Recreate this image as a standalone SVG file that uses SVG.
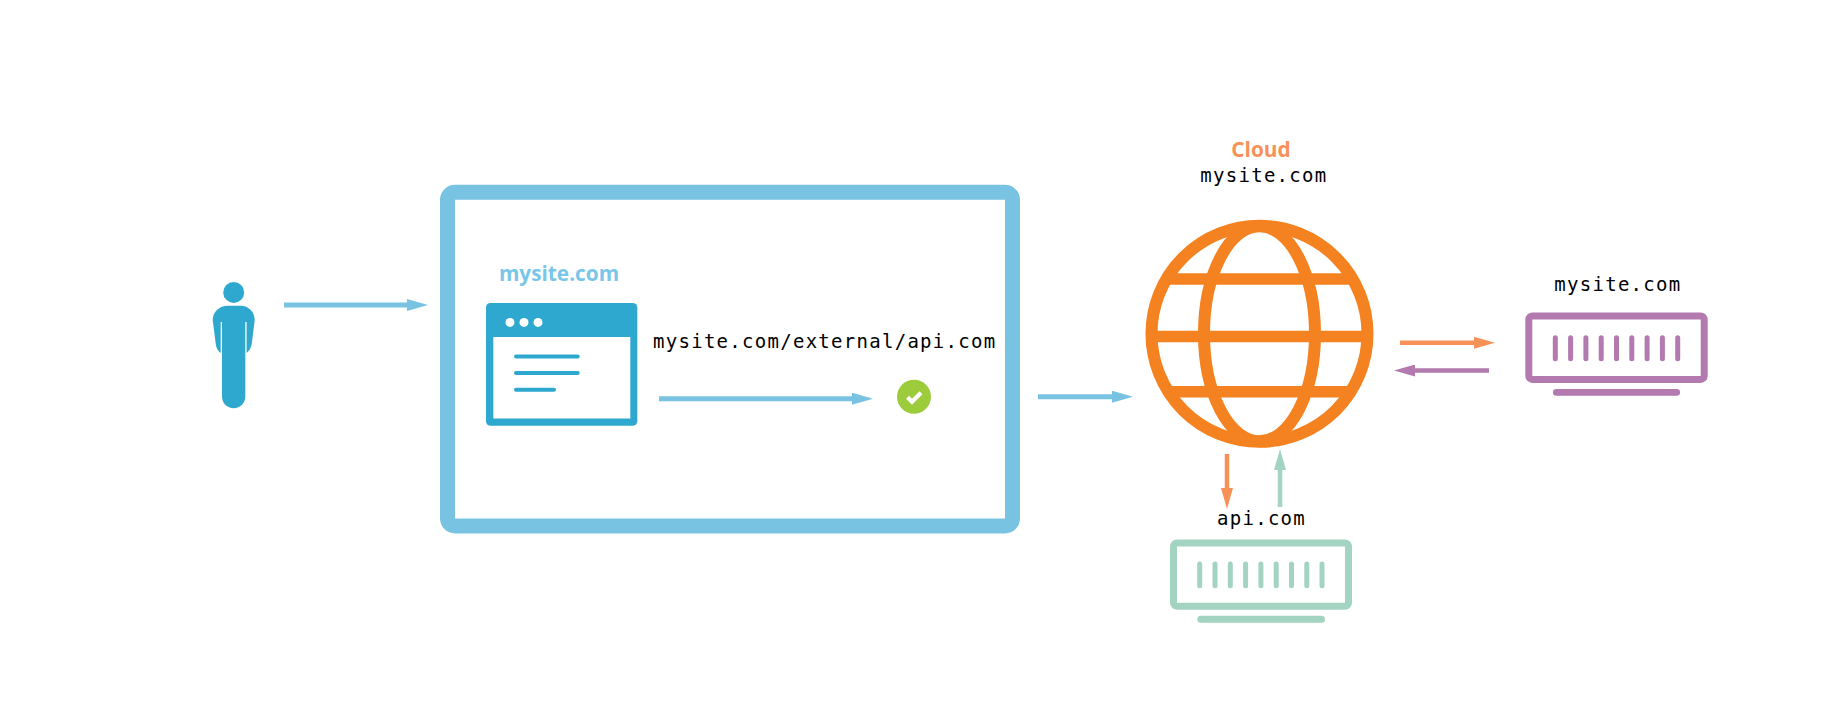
<svg xmlns="http://www.w3.org/2000/svg" width="1825" height="707" viewBox="0 0 1825 707">
<style>
.mono{font-family:"DejaVu Sans Mono","Liberation Mono",monospace;font-size:19px;letter-spacing:1.28px;fill:#000}
.head{font-family:"Open Sans","Liberation Sans",sans-serif;font-weight:700;font-size:20.8px}
.blue{stroke:#78C2E2;stroke-width:5;fill:none}
.orange{stroke:#F79158;stroke-width:4.5;fill:none}
.purple{stroke:#B27AAE;stroke-width:4.5;fill:none}
.mint{stroke:#A3D3C1;stroke-width:4.5;fill:none}
.bars{stroke-width:5;stroke-linecap:round;fill:none}
</style>
<defs>
<marker id="aBlue" markerUnits="userSpaceOnUse" markerWidth="21" markerHeight="12" refX="0" refY="6" orient="auto"><path d="M0 0L21 6L0 12Z" fill="#78C2E2"/></marker>
<marker id="aOrange" markerUnits="userSpaceOnUse" markerWidth="21" markerHeight="12" refX="0" refY="6" orient="auto"><path d="M0 0L21 6L0 12Z" fill="#F79158"/></marker>
<marker id="aPurple" markerUnits="userSpaceOnUse" markerWidth="21" markerHeight="12" refX="0" refY="6" orient="auto"><path d="M0 0L21 6L0 12Z" fill="#B27AAE"/></marker>
<marker id="aMint" markerUnits="userSpaceOnUse" markerWidth="21" markerHeight="12" refX="0" refY="6" orient="auto"><path d="M0 0L21 6L0 12Z" fill="#A3D3C1"/></marker>
</defs>
<rect width="1825" height="707" fill="#fff"/>
<g id="person" fill="#2EA8CF">
<circle cx="233.7" cy="292.4" r="10.5"/>
<path d="M228 305.7H240C249 305.7 254.7 312 254.7 320L252 342C251.5 348 249 351 246.6 353V322H245.3V396.5C245.3 403.5 240 408.2 233.7 408.2C227.4 408.2 222 403.5 222 396.5V322H220.7V353C218 351 216 348 215.5 342L212.7 320C212.7 312 219 305.7 228 305.7Z"/>
</g>
<g id="frame"><rect x="447.5" y="192.3" width="565" height="333.7" rx="7.5" fill="#fff" stroke="#78C2E2" stroke-width="15"/></g>
<g id="browser">
<text class="head" x="559" y="280.6" text-anchor="middle" fill="#7AC6E8">mysite.com</text>
<rect x="486" y="303" width="151.3" height="122.7" rx="4.5" fill="#2EA8CF"/>
<rect x="493.3" y="337" width="137" height="81.5" fill="#fff"/>
<g fill="#fff"><circle cx="510" cy="322.4" r="4.5"/><circle cx="524" cy="322.4" r="4.5"/><circle cx="538" cy="322.4" r="4.5"/></g>
<g stroke="#2EA8CF" stroke-width="4" stroke-linecap="round" fill="none"><path d="M516 356.4H577.7M516 373H577.7M516 389.7H554"/></g>
</g>
<g id="url-label"><text class="mono" x="653" y="347.8">mysite.com/external/api.com</text></g>
<g id="check">
<circle cx="914" cy="396.7" r="17" fill="#9CCB3B"/>
<path d="M907.5 397.2L912 401.7L921 392.7" stroke="#fff" stroke-width="4.2" fill="none"/>
</g>
<g id="globe" fill="none" stroke="#F58220" stroke-width="12">
<circle cx="1259.5" cy="333.8" r="108"/>
<ellipse cx="1259.5" cy="333.8" rx="55.5" ry="107.5"/>
<path d="M1166 279H1353M1152 336.5H1367M1168 391.7H1351" stroke-width="11.5"/>
</g>
<g id="cloud-label">
<text class="head" x="1261" y="156.6" text-anchor="middle" fill="#F79158">Cloud</text>
<text class="mono" x="1200.3" y="182">mysite.com</text>
</g>
<g id="server-mysite">
<text class="mono" x="1554.3" y="290.6">mysite.com</text>
<rect x="1528.8" y="316" width="175.4" height="63.4" rx="3.5" fill="none" stroke="#B27AAE" stroke-width="7"/>
<path class="bars" stroke="#B27AAE" d="M1555.3 337.7V358.7M1570.6 337.7V358.7M1585.9 337.7V358.7M1601.2 337.7V358.7M1616.5 337.7V358.7M1631.8 337.7V358.7M1647.1 337.7V358.7M1662.4 337.7V358.7M1677.7 337.7V358.7"/>
<rect x="1553" y="389" width="127" height="6.7" rx="3.3" fill="#B27AAE"/>
</g>
<g id="server-api">
<text class="mono" x="1217" y="525.4">api.com</text>
<rect x="1173.5" y="543" width="175" height="63.2" rx="3.5" fill="none" stroke="#A3D3C1" stroke-width="7"/>
<path class="bars" stroke="#A3D3C1" d="M1199.7 564V585.7M1215 564V585.7M1230.3 564V585.7M1245.6 564V585.7M1260.9 564V585.7M1276.2 564V585.7M1291.5 564V585.7M1306.8 564V585.7M1322 564V585.7"/>
<rect x="1197.3" y="615.7" width="127.7" height="7" rx="3.5" fill="#A3D3C1"/>
</g>
<g id="connectors">
<path class="blue" d="M284 305H407" marker-end="url(#aBlue)"/>
<path class="blue" d="M659 398.7H852" marker-end="url(#aBlue)"/>
<path class="blue" d="M1038 396.7H1112" marker-end="url(#aBlue)"/>
<path class="orange" d="M1400 342.8H1474" marker-end="url(#aOrange)"/>
<path class="purple" d="M1489 370.5H1415" marker-end="url(#aPurple)"/>
<path class="orange" d="M1227 454V488" marker-end="url(#aOrange)"/>
<path class="mint" d="M1280 507V470" marker-end="url(#aMint)"/>
</g>
</svg>
